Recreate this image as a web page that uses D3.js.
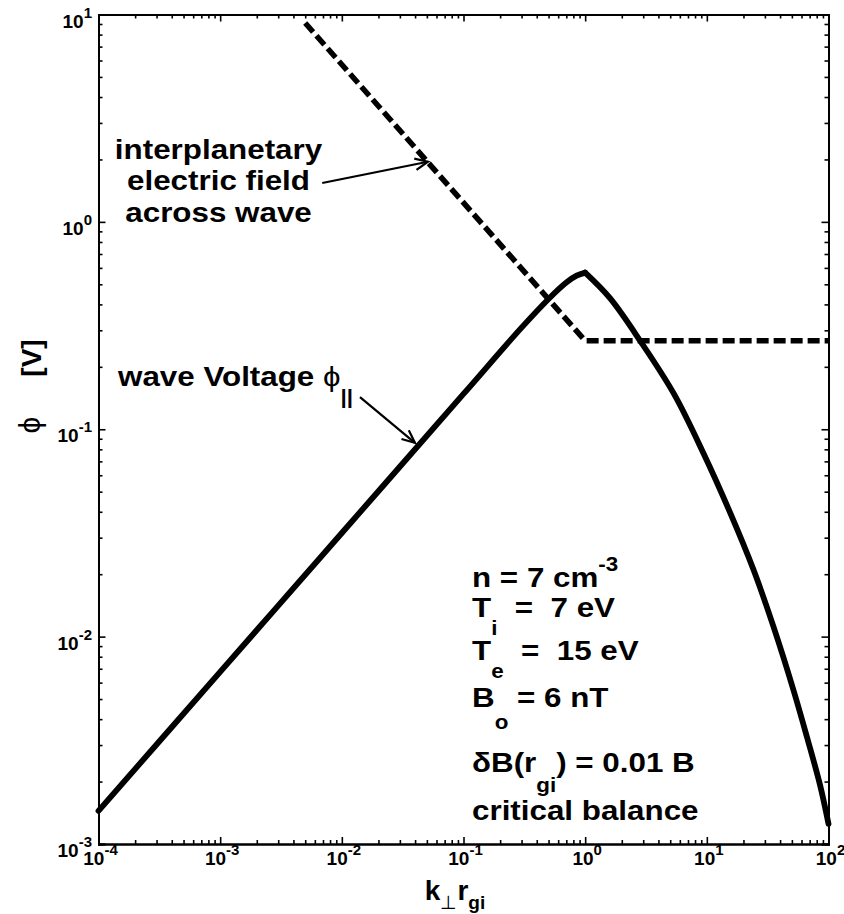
<!DOCTYPE html>
<html>
<head>
<meta charset="utf-8">
<script src="https://cdn.jsdelivr.net/npm/d3@7"></script>
<style>
  html, body { margin: 0; padding: 0; background: #fff; }
  svg { display: block; }
  text { font-family: "Liberation Sans", Arial, Helvetica, sans-serif; font-weight: bold; fill: #000; }
</style>
</head>
<body>
<svg id="chart" width="844" height="914"></svg>
<script>
// ---- data ---------------------------------------------------------------
// wave parallel voltage vs k_perp * r_gi, rising branch up to the peak at k = 1
const kRise   = [1e-4, 1e-3, 1e-2, 0.1, 0.3, 0.5, 0.7, 0.85, 1.0];
const phiRise = [1.445e-3, 6.76e-3, 0.0316, 0.148, 0.309, 0.425, 0.51, 0.55, 0.569];
// falling branch beyond the peak
const kFall   = [1.0, 1.6, 2.88, 5.37, 9.38, 15.6, 24.2, 35.3, 51.5, 66.4, 85.5, 100];
const phiFall = [0.569, 0.4285, 0.263, 0.148, 0.0766, 0.0394, 0.0210, 0.01117, 0.00553, 0.00329, 0.00191, 0.00125];
// potential of the interplanetary electric field across one wavelength
const kIEF    = [0.005, 1.0, 100];
const phiIEF  = [9.1, 0.267, 0.267];
// axis decades
const kTickExps   = [-4, -3, -2, -1, 0, 1, 2];
const phiTickExps = [-3, -2, -1, 0, 1];
// annotation arrows: [tail k, tail phi, head k, head phi]
const arrowIEF  = [6.9e-3, 1.54, 0.051, 1.95];
const arrowWave = [0.0141, 0.143, 0.0399, 0.086];

// ---- layout -------------------------------------------------------------
const svg = d3.select("#chart");
const mL = 98.5, mR = 828.5, mT = 14.5, mB = 844;
const x = d3.scaleLog().domain([1e-4, 1e2]).range([mL, mR]);
const y = d3.scaleLog().domain([1e-3, 1e1]).range([mB, mT]);

const majorK = kTickExps.map(e => Math.pow(10, e));
const majorP = phiTickExps.map(e => Math.pow(10, e));
const minorOf = exps => {
  const out = [];
  for (let i = 0; i < exps.length - 1; i++)
    for (let m = 2; m <= 9; m++) out.push(m * Math.pow(10, exps[i]));
  return out;
};
const minorK = minorOf(kTickExps), minorP = minorOf(phiTickExps);

function drawAxis(gen, transform, values, size) {
  const g = svg.append("g").attr("transform", transform)
    .call(gen.tickValues(values).tickSize(size).tickFormat(""));
  g.selectAll(".domain").attr("stroke", "#000").attr("stroke-width", 2);
  g.selectAll(".tick line").attr("stroke", "#000").attr("stroke-width", 1.6);
  g.selectAll(".tick text").remove();
  return g;
}
// ticks point inward on all four sides
drawAxis(d3.axisBottom(x), `translate(0,${mB})`, majorK, -7);
drawAxis(d3.axisBottom(x), `translate(0,${mB})`, minorK, -4);
drawAxis(d3.axisTop(x), `translate(0,${mT})`, majorK, -7);
drawAxis(d3.axisTop(x), `translate(0,${mT})`, minorK, -4);
drawAxis(d3.axisLeft(y), `translate(${mL},0)`, majorP, -7);
drawAxis(d3.axisLeft(y), `translate(${mL},0)`, minorP, -4);
drawAxis(d3.axisRight(y), `translate(${mR},0)`, majorP, -7);
drawAxis(d3.axisRight(y), `translate(${mR},0)`, minorP, -4);

// power-of-ten tick labels
kTickExps.forEach(e => {
  const t = svg.append("text").attr("x", x(Math.pow(10, e)) + 2).attr("y", 865)
    .attr("text-anchor", "middle").style("font-size", "19px");
  t.append("tspan").text("10");
  t.append("tspan").attr("dy", -10).style("font-size", "15px").text(e);
});
phiTickExps.forEach(e => {
  const t = svg.append("text").attr("x", 92).attr("y", y(Math.pow(10, e)) + 13)
    .attr("text-anchor", "end").style("font-size", "19px");
  t.append("tspan").text("10");
  t.append("tspan").attr("dy", -10).style("font-size", "15px").text(e);
});

// axis titles
const xl = svg.append("text").attr("x", 455).attr("y", 900).attr("text-anchor", "middle")
  .style("font-size", "28px");
xl.append("tspan").text("k");
xl.append("tspan").attr("dy", 9).style("font-size", "19px").style("font-weight", "normal").text("\u22A5");
xl.append("tspan").attr("dy", -9).text("r");
xl.append("tspan").attr("dy", 9).style("font-size", "19px").text("gi");

svg.append("text").attr("transform", "translate(40,425) rotate(-90)")
  .attr("text-anchor", "middle").style("font-size", "30px").style("font-weight", "normal")
  .text("\u03D5");
svg.append("text").attr("transform", "translate(41,358) rotate(-90)")
  .attr("text-anchor", "middle").style("font-size", "28px").text("[V]");

// ---- curves -------------------------------------------------------------
const pts = (ks, ps) => ks.map((k, i) => [k, ps[i]]);
const lineLin = d3.line().x(d => x(d[0])).y(d => y(d[1])).curve(d3.curveLinear);
const lineSmooth = d3.line().x(d => x(d[0])).y(d => y(d[1])).curve(d3.curveCatmullRom.alpha(0.5));
svg.append("defs").append("clipPath").attr("id", "plotclip").append("rect")
  .attr("x", mL).attr("y", mT).attr("width", mR - mL).attr("height", mB - mT);

svg.append("g").attr("clip-path", "url(#plotclip)")
  .append("path").datum(pts(kIEF, phiIEF))
  .attr("d", lineLin).attr("fill", "none").attr("stroke", "#000")
  .attr("stroke-width", 5.5).attr("stroke-dasharray", "12,5");

[pts(kRise, phiRise), pts(kFall, phiFall)].forEach(data => {
  svg.append("path").datum(data)
    .attr("d", lineSmooth).attr("fill", "none").attr("stroke", "#000")
    .attr("stroke-width", 5.8).attr("stroke-linejoin", "round").attr("stroke-linecap", "round");
});

// ---- annotations --------------------------------------------------------
function arrow(a) {
  const x0 = x(a[0]), y0 = y(a[1]), x1 = x(a[2]), y1 = y(a[3]);
  const ang = Math.atan2(y1 - y0, x1 - x0), L = 14, w = 0.42;
  svg.append("line").attr("x1", x0).attr("y1", y0).attr("x2", x1).attr("y2", y1)
    .attr("stroke", "#000").attr("stroke-width", 2.2);
  svg.append("path")
    .attr("d", `M${x1 - L * Math.cos(ang - w)},${y1 - L * Math.sin(ang - w)} L${x1},${y1} L${x1 - L * Math.cos(ang + w)},${y1 - L * Math.sin(ang + w)}`)
    .attr("fill", "none").attr("stroke", "#000").attr("stroke-width", 2.2);
}
arrow(arrowIEF);
arrow(arrowWave);

const SX = 1.12;
function block(px, py, anchor) {
  return svg.append("g").attr("transform", `translate(${px},${py}) scale(${SX},1)`)
    .append("text").attr("text-anchor", anchor).style("font-size", "28px")
    .attr("xml:space", "preserve");
}
block(218.5, 158.5, "middle").text("interplanetary");
block(218.5, 190, "middle").text("electric field");
block(218.5, 221.5, "middle").text("across wave");

const wv = block(118, 386, "start");
wv.append("tspan").text("wave Voltage ");
wv.append("tspan").style("font-weight", "normal").text("\u03D5");
wv.append("tspan").attr("dy", 18).style("font-size", "20px").text("||");

const P = 472;
let t = block(P, 587, "start");
t.append("tspan").text("n = 7 cm");
t.append("tspan").attr("dy", -16).style("font-size", "20px").text("-3");
t = block(P, 617, "start");
t.append("tspan").text("T");
t.append("tspan").attr("dy", 18).style("font-size", "20px").text("i");
t.append("tspan").attr("dy", -18).text("  =  7 eV");
t = block(P, 660, "start");
t.append("tspan").text("T");
t.append("tspan").attr("dy", 18).style("font-size", "20px").text("e");
t.append("tspan").attr("dy", -18).text("  =  15 eV");
t = block(P, 707, "start");
t.append("tspan").text("B");
t.append("tspan").attr("dy", 22).style("font-size", "20px").text("o");
t.append("tspan").attr("dy", -22).text(" = 6 nT");
t = block(P, 772, "start");
t.append("tspan").text("\u03B4B(r");
t.append("tspan").attr("dy", 20).style("font-size", "20px").text("gi");
t.append("tspan").attr("dy", -20).text(") = 0.01 B");
block(P, 820, "start").text("critical balance");
</script>
</body>
</html>
